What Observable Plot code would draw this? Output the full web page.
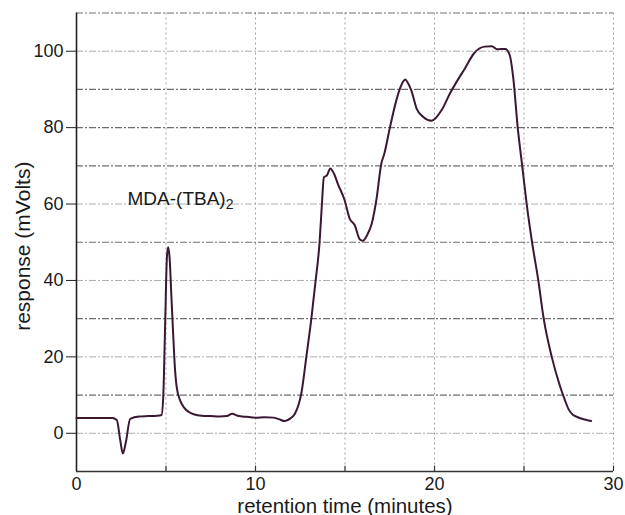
<!DOCTYPE html>
<html>
<head>
<meta charset="utf-8">
<script src="https://cdn.jsdelivr.net/npm/d3@7"></script>
<script src="https://cdn.jsdelivr.net/npm/@observablehq/plot@0.6"></script>
<style>
  html, body { margin: 0; padding: 0; background: #fff; }
</style>
</head>
<body>
<div id="chart"></div>
<script>
// Retention time (minutes)
const time = [0, 1, 2, 2.25, 2.45, 2.59, 2.75, 3.0, 3.5, 4.0, 4.5, 4.75, 4.85, 4.95, 5.05, 5.12, 5.2, 5.3, 5.4, 5.5, 5.6, 5.8, 6.0, 6.3, 6.6, 7.0, 7.5, 8.0, 8.4, 8.7, 9.0, 9.5, 10.0, 10.5, 11.0, 11.3, 11.64, 11.95, 12.2, 12.4, 12.56, 12.84, 13.12, 13.36, 13.58, 13.71, 13.82, 13.99, 14.18, 14.4, 14.6, 14.98, 15.26, 15.54, 15.82, 16.0, 16.25, 16.5, 16.75, 17.03, 17.2, 17.5, 17.87, 18.1, 18.24, 18.37, 18.5, 18.7, 19.0, 19.37, 19.84, 20.4, 20.87, 21.3, 21.7, 22.2, 22.8, 23.2, 23.5, 23.95, 24.2, 24.4, 24.65, 24.9, 25.15, 25.45, 25.8, 26.1, 26.55, 27.0, 27.3, 27.5, 27.75, 28.0, 28.4, 28.75];
// Detector response (mVolts)
const response = [4, 4, 4, 3.5, -2, -5.3, -2.5, 3.8, 4.4, 4.5, 4.6, 4.8, 10, 28, 46, 48.7, 46, 36, 26, 17, 12, 8.5, 6.8, 5.5, 4.9, 4.6, 4.5, 4.4, 4.5, 5.1, 4.6, 4.3, 4.1, 4.2, 4.1, 3.7, 3.2, 3.9, 5.1, 7.4, 10.4, 20, 30, 40, 50, 60, 67, 67.5, 69.3, 67.8, 65.3, 61, 56.2, 54.5, 50.8, 50.4, 52, 55, 61, 70.6, 73.2, 79.8, 87.2, 90.6, 92, 92.6, 91.8, 89.8, 85, 82.8, 81.8, 84.6, 89, 92.5, 95.5, 99.4, 101.2, 101.3, 100.5, 100.6, 99, 93, 80, 70, 60, 50, 40, 30, 20, 12.5, 8.5, 6.2, 4.8, 4.2, 3.6, 3.2];

const xTickLabels = [0, 10, 20, 30];
const yTickLabels = [0, 20, 40, 60, 80, 100];
const xGrid = [5, 10, 15, 20, 25, 30];
const xMinorTicks = [5, 10, 15, 20, 25, 30];
const yGridDark = [10, 30, 50, 70, 80, 90, 110];
const yGridLight = [0, 20, 40, 60, 100];

const peakLabelMain = "MDA-(TBA)";
const peakLabelSub = "2";
const peakLabelPos = {x: 2.85, y: 59.7};

const xLabel = "retention time (minutes)";
const yLabel = "response (mVolts)";

const data = time.map((t, i) => ({t, r: response[i]}));

const font = "'Liberation Sans', Arial, Helvetica, sans-serif";

const plot = Plot.plot({
  width: 625,
  height: 515,
  marginLeft: 76,
  marginRight: 12,
  marginTop: 12.5,
  marginBottom: 44,
  style: {fontFamily: font, fontSize: "18px", background: "#fff", color: "#1a1a1a"},
  x: {domain: [0, 30]},
  y: {domain: [-10, 110]},
  marks: [
    Plot.ruleX(xGrid, {stroke: "#8a8a8a", strokeWidth: 1, strokeDasharray: "2,3", strokeOpacity: 0.8}),
    Plot.ruleY(yGridLight, {stroke: "#9a9a9a", strokeWidth: 1, strokeDasharray: "7,2,2,2", strokeOpacity: 0.8}),
    Plot.ruleY(yGridDark, {stroke: "#555", strokeWidth: 1.1, strokeDasharray: "7,2,2,2", strokeOpacity: 0.85}),
    Plot.ruleX(xMinorTicks, {y1: -10, y2: -8.6, stroke: "#333", strokeWidth: 1.2}),
    Plot.axisY(yTickLabels, {tickSize: 10, tickPadding: 3, fontSize: 18, label: null, stroke: "#222"}),
    Plot.axisX(xTickLabels, {tickSize: 0, tickPadding: 6, fontSize: 18, label: null}),
    Plot.ruleX([0], {stroke: "#222", strokeWidth: 1.6}),
    Plot.ruleY([-10], {stroke: "#333", strokeWidth: 1.6}),
    Plot.line(data, {x: "t", y: "r", stroke: "#3b1832", strokeWidth: 2, curve: "monotone-x"}),
    Plot.text([peakLabelMain], {x: peakLabelPos.x, y: peakLabelPos.y, text: d => d, textAnchor: "start", lineAnchor: "bottom", fontSize: 19, fill: "#1a1a1a", className: "peak-label"}),
    Plot.text([xLabel], {frameAnchor: "bottom", dy: 41, lineAnchor: "bottom", textAnchor: "middle", fontSize: 20.5, fill: "#1a1a1a"}),
    Plot.text([yLabel], {frameAnchor: "left", dx: -47, dy: 4, rotate: -90, lineAnchor: "bottom", textAnchor: "middle", fontSize: 21, fill: "#1a1a1a"})
  ]
});

// subscript for the peak label
d3.select(plot).selectAll(".peak-label text").each(function() {
  const t = d3.select(this);
  t.append("tspan").attr("dy", "0.3em").attr("font-size", "14px").text(peakLabelSub);
});

document.getElementById("chart").appendChild(plot);
</script>
</body>
</html>
